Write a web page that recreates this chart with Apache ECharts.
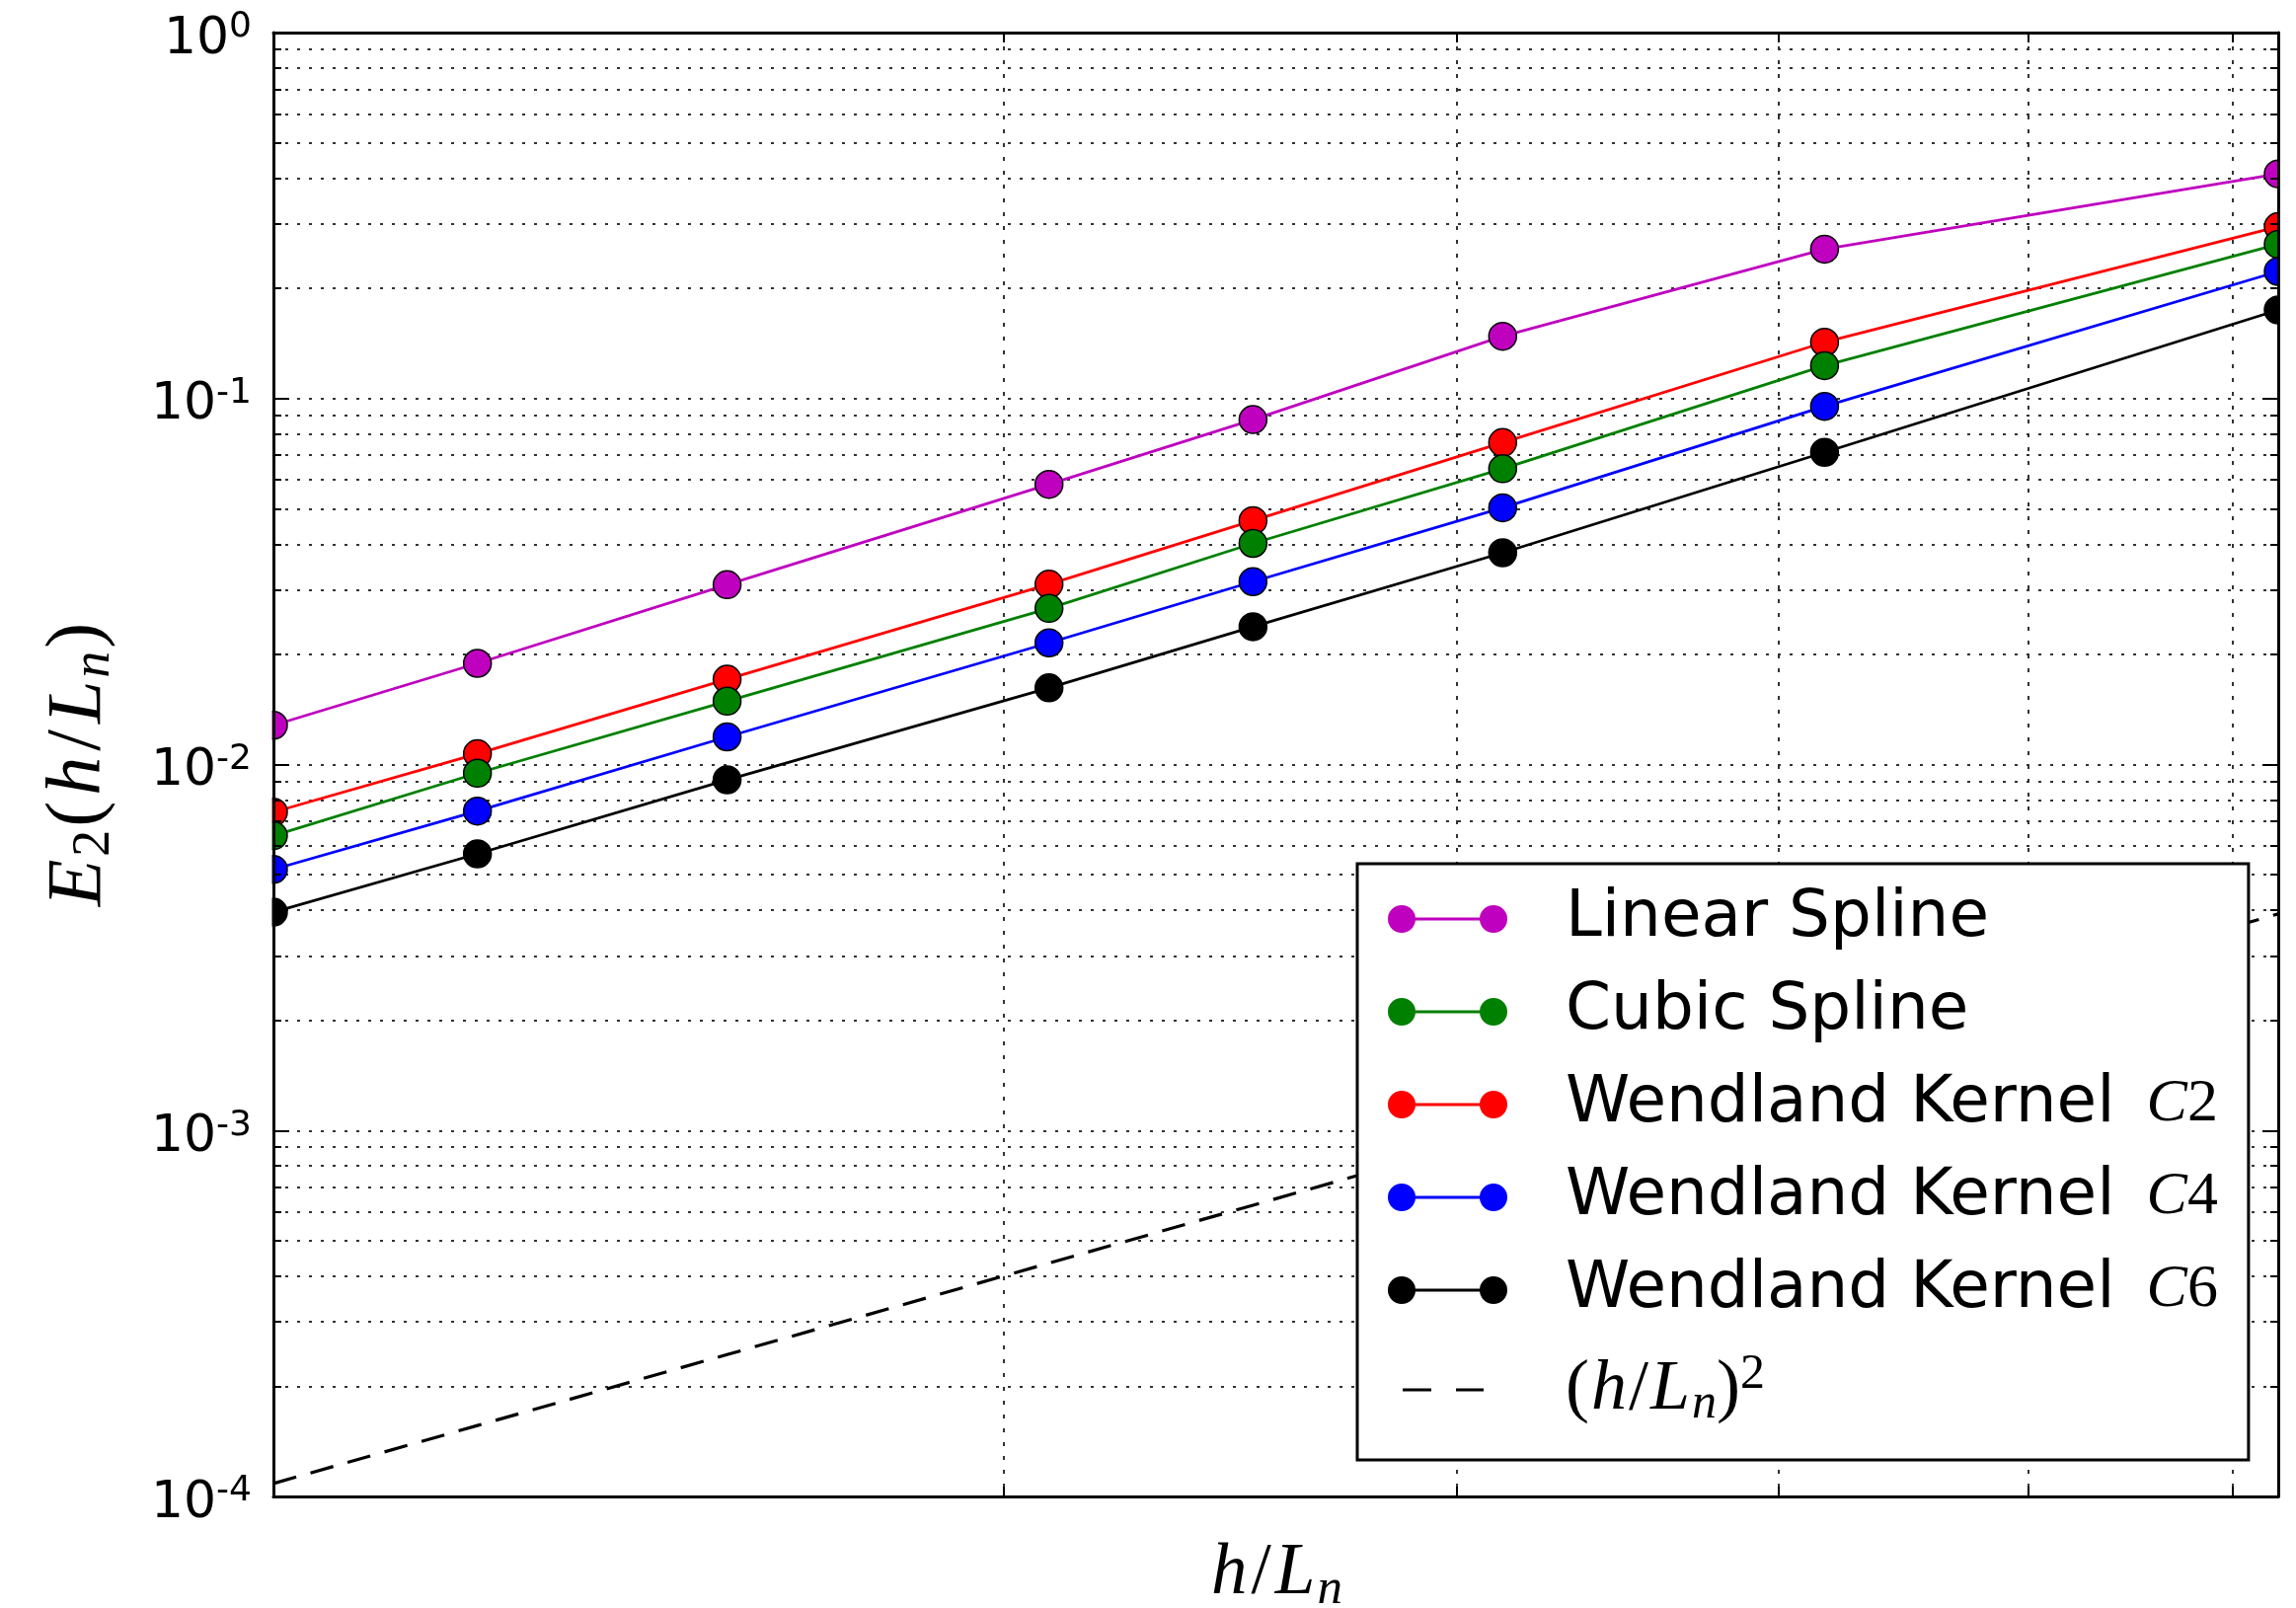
<!DOCTYPE html>
<html>
<head>
<meta charset="utf-8">
<script src="https://cdn.jsdelivr.net/npm/echarts@6/dist/echarts.min.js"></script>
<style>
  html, body { margin: 0; padding: 0; background: #ffffff; }
  #chart { width: 2326px; height: 1629px; }
</style>
</head>
<body>
<div id="chart"></div>
<script>
// Grid spacing h/L_n used in the convergence study
const hValues = [1/96, 1/80, 1/64, 1/48, 1/40, 1/32, 1/24, 1/16];

// L2 error E_2 for each kernel
const linearSpline = [0.0128, 0.0189, 0.0310, 0.0583, 0.0876, 0.148, 0.256, 0.411];
const cubicSpline  = [0.00639, 0.00947, 0.0149, 0.0267, 0.0402, 0.0643, 0.123, 0.264];
const wendlandC2   = [0.00741, 0.0107, 0.0171, 0.0311, 0.0464, 0.0758, 0.1425, 0.295];
const wendlandC4   = [0.00517, 0.00746, 0.0119, 0.0215, 0.0316, 0.0503, 0.0952, 0.2225];
const wendlandC6   = [0.00395, 0.00570, 0.00908, 0.0162, 0.0238, 0.0379, 0.0713, 0.1746];
// second-order reference slope (h/L_n)^2
const secondOrder  = [0.0001085, 0.00015625, 0.0002441, 0.000434, 0.000625, 0.0009766, 0.001736, 0.003906];

const seriesNames = ['Linear Spline', 'Cubic Spline', 'Wendland Kernel C2', 'Wendland Kernel C4', 'Wendland Kernel C6', '(h/L_n)^2'];

// y tick labels: 10^exponent
const yTickValues = [1e-4, 1e-3, 1e-2, 1e-1, 1];
const yTickExponents = ['-4', '-3', '-2', '-1', '0'];
// x grid / tick positions
const xGridValues = [0.02, 0.03, 0.04, 0.05, 0.06];

const textFont = "'DejaVu Sans', sans-serif";
const mathFont = "'Liberation Serif', 'DejaVu Serif', serif";

const gridDotsH = { type: [3, 9], color: '#333', width: 2 };
const gridDotsV = { type: [4, 10], color: '#333', width: 2 };

// plot frame in pixels
const frame = { left: 277, right: 18, top: 33, bottom: 113 };
const W = 2326, H = 1629;

function pairs(ys) {
  return hValues.map((h, i) => [h, ys[i]]);
}

// legend rich-text for each entry
const legendLabels = {
  'Linear Spline': '{t|Linear Spline}',
  'Cubic Spline': '{t|Cubic Spline}',
  'Wendland Kernel C2': '{t|Wendland Kernel}{m|C}{r|2}',
  'Wendland Kernel C4': '{t|Wendland Kernel}{m|C}{r|4}',
  'Wendland Kernel C6': '{t|Wendland Kernel}{m|C}{r|6}',
  '(h/L_n)^2': '{p|(}{mh|h}{p|/}{mh|L}{sub|n}{p|)}{sup|2}'
};

const lineIcon = 'path://M0,14A14,14,0,1,1,28,14A14,14,0,1,1,0,14Z M93,14A14,14,0,1,1,121,14A14,14,0,1,1,93,14Z M14,12.6L107,12.6L107,15.4L14,15.4Z';
const dashIcon = 'path://M0,0L0.01,0Z M121,28L120.99,28Z M15,12.5L44,12.5L44,15.5L15,15.5Z M69,12.5L97,12.5L97,15.5L69,15.5Z';

const markerSeries = [
  { name: seriesNames[0], values: linearSpline, color: '#bf00bf' },
  { name: seriesNames[2], values: wendlandC2, color: '#ff0000' },
  { name: seriesNames[1], values: cubicSpline, color: '#008000' },
  { name: seriesNames[3], values: wendlandC4, color: '#0000ff' },
  { name: seriesNames[4], values: wendlandC6, color: '#000000' }
];

const series = markerSeries.map(s => ({
  name: s.name,
  type: 'line',
  data: pairs(s.values),
  symbol: 'circle',
  symbolSize: 28,
  showSymbol: true,
  clip: true,
  lineStyle: { color: s.color, width: 2.8 },
  itemStyle: { color: s.color, borderColor: '#000', borderWidth: 1.5 },
  emphasis: { disabled: true },
  z: 3
}));

series.push({
  name: seriesNames[5],
  type: 'line',
  data: pairs(secondOrder),
  symbol: 'none',
  lineStyle: { color: '#000', width: 3.2, type: [24, 15] },
  itemStyle: { color: '#000' },
  emphasis: { disabled: true },
  z: 2
});

const spine = { show: true, lineStyle: { color: '#000', width: 3 } };
const majorTick = { show: true, inside: true, length: 16, lineStyle: { color: '#000', width: 2 } };
const minorTickY = { show: true, splitNumber: 9, length: 8, lineStyle: { color: '#000', width: 2 } };
const xTick = { show: true, inside: true, length: 10, lineStyle: { color: '#000', width: 2 }, customValues: xGridValues };

function yLabel(v) {
  for (let i = 0; i < yTickValues.length; i++) {
    if (Math.abs(v - yTickValues[i]) / yTickValues[i] < 1e-6) {
      return '{b|10}{s|' + yTickExponents[i] + '}';
    }
  }
  return '';
}

function logX() {
  return { type: 'log', min: hValues[0], max: hValues[hValues.length - 1], axisLabel: { show: false } };
}
function logY() {
  return { type: 'log', min: yTickValues[0], max: yTickValues[yTickValues.length - 1] };
}

const option = {
  animation: false,
  backgroundColor: '#ffffff',
  grid: { left: frame.left, right: frame.right, top: frame.top, bottom: frame.bottom, containLabel: false, outerBoundsMode: 'none' },
  xAxis: [
    // grid lines and axis title
    Object.assign(logX(), {
      position: 'bottom',
      axisLine: { show: false },
      axisTick: { show: false, customValues: xGridValues },
      splitLine: { show: true, lineStyle: gridDotsV },
      name: '{m|h}{r|/}{m|L}{sub|n}',
      nameLocation: 'middle',
      nameGap: 38,
      nameTextStyle: {
        rich: {
          m: { fontFamily: mathFont, fontStyle: 'italic', fontSize: 73, lineHeight: 82, color: '#000', padding: [0, 2, 0, 2] },
          r: { fontFamily: mathFont, fontSize: 73, lineHeight: 82, color: '#000', padding: [0, 2, 0, 2] },
          sub: { fontFamily: mathFont, fontStyle: 'italic', fontSize: 51, lineHeight: 50, verticalAlign: 'bottom', color: '#000' }
        }
      }
    }),
    // spines with inward ticks, drawn above the data
    Object.assign(logX(), { position: 'bottom', z: 10, axisLine: spine, axisTick: xTick, splitLine: { show: false } }),
    Object.assign(logX(), { position: 'top', z: 10, axisLine: spine, axisTick: xTick, splitLine: { show: false } })
  ],
  yAxis: [
    Object.assign(logY(), {
      position: 'left',
      axisLine: { show: false },
      axisTick: { show: false },
      minorTick: { show: false, splitNumber: 9 },
      splitLine: { show: true, lineStyle: gridDotsH },
      minorSplitLine: { show: true, lineStyle: gridDotsH },
      axisLabel: {
        margin: 22,
        formatter: yLabel,
        padding: [14, 0, 0, 0],
        rich: {
          b: { fontFamily: textFont, fontSize: 52, lineHeight: 60, color: '#000' },
          s: { fontFamily: textFont, fontSize: 36, lineHeight: 33, verticalAlign: 'top', color: '#000' }
        }
      },
      name: '{m|E}{sub|2}{r|(}{m|h}{r|/}{m|L}{subi|n}{r|)}',
      nameLocation: 'middle',
      nameRotate: 90,
      nameGap: 154,
      nameTextStyle: {
        rich: {
          m: { fontFamily: mathFont, fontStyle: 'italic', fontSize: 78, lineHeight: 86, color: '#000', padding: [0, 3, 0, 3] },
          r: { fontFamily: mathFont, fontSize: 78, lineHeight: 86, color: '#000', padding: [0, 3, 0, 3] },
          sub: { fontFamily: mathFont, fontSize: 54, lineHeight: 52, verticalAlign: 'bottom', color: '#000' },
          subi: { fontFamily: mathFont, fontStyle: 'italic', fontSize: 54, lineHeight: 52, verticalAlign: 'bottom', color: '#000' }
        }
      }
    }),
    Object.assign(logY(), { position: 'left', z: 10, axisLine: spine, axisTick: majorTick, minorTick: minorTickY, splitLine: { show: false }, axisLabel: { show: false } }),
    Object.assign(logY(), { position: 'right', z: 10, axisLine: spine, axisTick: majorTick, minorTick: minorTickY, splitLine: { show: false }, axisLabel: { show: false } })
  ],
  // white strips just outside the frame so edge markers are cut at the spines
  graphic: [
    { type: 'rect', z: 5, silent: true, shape: { x: frame.left - 20, y: frame.top, width: 18.5, height: H - frame.top - frame.bottom }, style: { fill: '#fff' } },
    { type: 'rect', z: 5, silent: true, shape: { x: W - frame.right + 1.5, y: frame.top, width: 20, height: H - frame.top - frame.bottom }, style: { fill: '#fff' } }
  ],
  legend: {
    orient: 'vertical',
    left: 1375,
    top: 875,
    z: 12,
    selectedMode: false,
    data: [
      { name: seriesNames[0], icon: lineIcon },
      { name: seriesNames[1], icon: lineIcon },
      { name: seriesNames[2], icon: lineIcon },
      { name: seriesNames[3], icon: lineIcon },
      { name: seriesNames[4], icon: lineIcon },
      { name: seriesNames[5], icon: dashIcon }
    ],
    itemWidth: 121,
    itemHeight: 28,
    itemGap: 28,
    padding: [23, 31, 31, 31],
    backgroundColor: '#ffffff',
    borderColor: '#000',
    borderWidth: 3,
    borderRadius: 0,
    itemStyle: { borderWidth: 0 },
    formatter: name => legendLabels[name],
    textStyle: {
      padding: [0, 0, 0, 54],
      rich: {
        t: { fontFamily: textFont, fontSize: 66, lineHeight: 80, color: '#000' },
        m: { fontFamily: mathFont, fontStyle: 'italic', fontSize: 62, lineHeight: 80, color: '#000', padding: [0, 0, 0, 32] },
        r: { fontFamily: mathFont, fontSize: 62, lineHeight: 80, color: '#000' },
        mh: { fontFamily: mathFont, fontStyle: 'italic', fontSize: 72, lineHeight: 80, color: '#000', padding: [0, 2, 0, 2] },
        p: { fontFamily: mathFont, fontSize: 72, lineHeight: 80, color: '#000' },
        sub: { fontFamily: mathFont, fontStyle: 'italic', fontSize: 50, lineHeight: 48, verticalAlign: 'bottom', color: '#000' },
        sup: { fontFamily: mathFont, fontSize: 50, lineHeight: 36, verticalAlign: 'top', color: '#000' }
      }
    }
  },
  series: series
};

const chart = echarts.init(document.getElementById('chart'), null, { renderer: 'canvas' });
chart.setOption(option);
</script>
</body>
</html>
